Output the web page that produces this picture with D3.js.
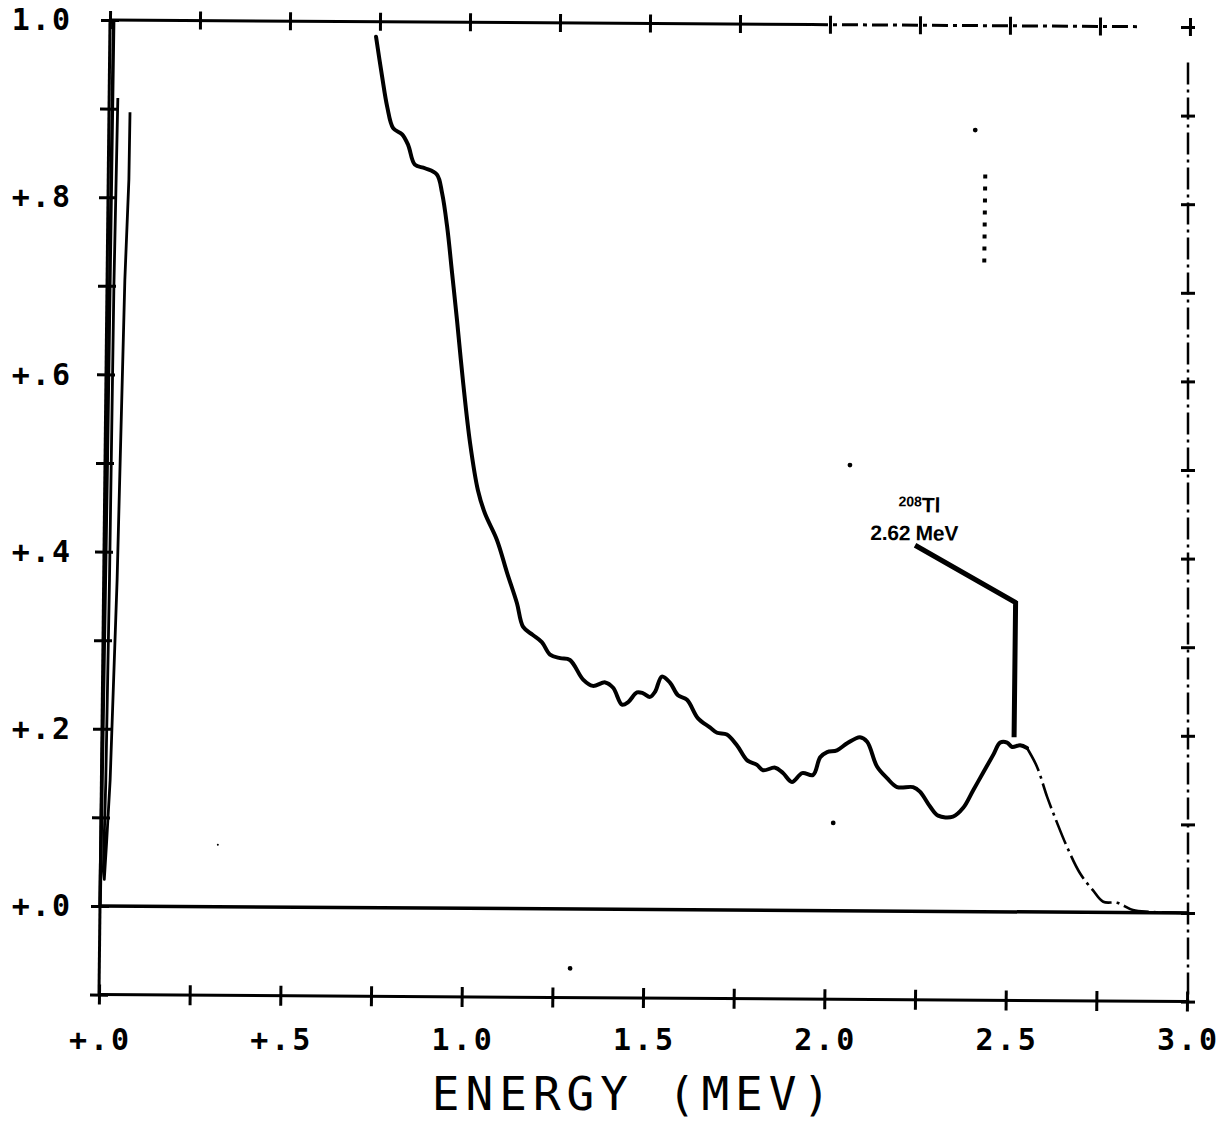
<!DOCTYPE html>
<html>
<head>
<meta charset="utf-8">
<script src="https://cdn.jsdelivr.net/npm/d3@7"></script>
<style>
  body { margin: 0; background: #fff; }
</style>
</head>
<body>
<svg id="chart" width="1224" height="1122"></svg>
<script>
// Gamma spectrum (energy in MeV, relative counts)
const energy = [0.734,0.752,0.767,0.784,0.809,0.826,0.845,0.873,0.906,0.921,
  0.936,0.951,0.966,0.985,1.006,1.029,1.049,1.083,1.112,1.140,
  1.158,1.185,1.210,1.233,1.261,1.288,1.325,1.352,1.386,1.408,
  1.433,1.450,1.474,1.491,1.510,1.524,1.542,1.565,1.587,1.612,
  1.643,1.676,1.696,1.723,1.751,1.780,1.807,1.824,1.857,1.879,
  1.904,1.932,1.962,1.981,2.000,2.027,2.055,2.090,2.110,2.138,
  2.166,2.194,2.238,2.257,2.286,2.308,2.349,2.377,2.404,2.431,
  2.458,2.477,2.496,2.510,2.532,2.551,2.579,2.608,2.636,2.664,
  2.701,2.737,2.766,2.804,2.848,2.895,3.0];
const counts = [0.983,0.938,0.904,0.880,0.873,0.861,0.839,0.835,0.828,0.807,
  0.769,0.717,0.664,0.593,0.525,0.472,0.446,0.416,0.379,0.345,
  0.318,0.309,0.301,0.287,0.283,0.281,0.259,0.252,0.256,0.250,
  0.231,0.234,0.245,0.244,0.240,0.246,0.263,0.256,0.242,0.237,
  0.216,0.206,0.200,0.198,0.186,0.169,0.164,0.158,0.161,0.155,
  0.145,0.155,0.153,0.173,0.179,0.181,0.189,0.196,0.191,0.163,
  0.150,0.140,0.140,0.135,0.118,0.108,0.107,0.117,0.137,0.157,
  0.177,0.191,0.191,0.186,0.188,0.185,0.164,0.130,0.101,0.074,
  0.044,0.025,0.012,0.011,0.003,0.001,0.0];
const tailStart = 2.551; // pen goes thin / broken from here on

// off-scale low energy region: rising edge and the returning strokes
const spikeEdge = [[0, 0], [0.006, 0.5], [0.01, 1.0]];
const spikeLoop = [[0.024,0.912],[0.019,0.70],[0.016,0.37],[0.012,0.14],[0.008,0.04],
  [0.011,0.03],[0.016,0.07],[0.024,0.142],[0.037,0.368],[0.049,0.707],[0.057,0.82],[0.058,0.896]];

// 208Tl line marker
const leader = [[2.236, 0.413], [2.515, 0.349], [2.515, 0.197]];
const peakIsotope = '208';
const peakElement = 'Tl';
const peakEnergyLabel = '2.62 MeV';

// stray plotter specks
const specks = [[2.389, 0.882], [2.054, 0.503], [2.019, 0.099], [1.298, -0.067], [0.323, 0.070]];
const speckTrail = [[2.418, 0.832], [2.418, 0.728]];

// axes
const xTickValues = [0,0.25,0.5,0.75,1,1.25,1.5,1.75,2,2.25,2.5,2.75,3];
const xLabelValues = [0, 0.5, 1, 1.5, 2, 2.5, 3];
const xTickLabels = ['+.0', '+.5', '1.0', '1.5', '2.0', '2.5', '3.0'];
const yTickValues = [-0.1,0,0.1,0.2,0.3,0.4,0.5,0.6,0.7,0.8,0.9,1.0];
const yLabelValues = [0, 0.2, 0.4, 0.6, 0.8, 1.0];
const yTickLabels = ['+.0', '+.2', '+.4', '+.6', '+.8', '1.0'];
const xTitle = 'ENERGY (MEV)';

const svg = d3.select('#chart');
const x = d3.scaleLinear().domain([0, 3]).range([100, 1188]);
const xTop = d3.scaleLinear().domain([0, 3]).range([110, 1190]);
const y = d3.scaleLinear().domain([0, 1]).range([906, 20]);
const mono = "'DejaVu Sans Mono', 'Liberation Mono', monospace";

// the scanned sheet is slightly skewed
const plot = svg.append('g')
  .attr('transform', 'translate(100,906) matrix(1,0.0064,-0.0113,1,0,0) translate(-100,-906)');
// top and right edges of the frame sit a little differently on the scan
const topEdge = svg.append('g').attr('transform', `rotate(0.37, ${xTop(0)}, ${y(1)})`);
const rightEdge = svg.append('g').attr('transform', 'translate(0,7)');

const seg = (g, x1, y1, x2, y2) => g.append('line')
  .attr('x1', x1).attr('y1', y1).attr('x2', x2).attr('y2', y2)
  .attr('stroke', '#000').attr('stroke-width', 3);

// frame
seg(plot, x(0), y(-0.1), x(0), y(1.0));
seg(plot, x(0), y(-0.1), x(3), y(-0.1));
seg(plot, x(0), y(0), x(3), y(0)).attr('stroke-width', 3.5);
seg(topEdge, xTop(0), y(1.0), xTop(1.95), y(1.0));
seg(topEdge, xTop(1.95), y(1.0), xTop(2.86), y(1.0)).attr('stroke-dasharray', '16,5,4,5');
seg(rightEdge, x(3), y(0.96), x(3), y(-0.1)).attr('stroke-dasharray', '22,5,3,5').attr('stroke-width', 2.5);

// cross-shaped ticks
const crossTicks = (g, horiz, len) => {
  g.select('.domain').remove();
  const lines = g.selectAll('.tick line').attr('stroke', '#000').attr('stroke-width', 3);
  if (horiz) lines.attr('x1', -len).attr('x2', len);
  else lines.attr('y1', -len).attr('y2', len);
};
plot.append('g').attr('transform', `translate(${x(0)},0)`)
  .call(d3.axisLeft(y).tickValues(yTickValues).tickFormat('').tickSize(9))
  .call(g => crossTicks(g, true, 9));
rightEdge.append('g').attr('transform', `translate(${x(3)},0)`)
  .call(d3.axisRight(y).tickValues(yTickValues).tickFormat('').tickSize(8))
  .call(g => crossTicks(g, true, 7));
plot.append('g').attr('transform', `translate(0,${y(-0.1)})`)
  .call(d3.axisBottom(x).tickValues(xTickValues).tickFormat('').tickSize(10))
  .call(g => crossTicks(g, false, 10));
topEdge.append('g').attr('transform', `translate(0,${y(1.0)})`)
  .call(d3.axisTop(xTop).tickValues(xTickValues).tickFormat('').tickSize(9))
  .call(g => crossTicks(g, false, 9));

// spectrum
const line = d3.line().x(d => x(d[0])).y(d => y(d[1]));
const spectrum = energy.map((e, i) => [e, counts[i]]);
plot.append('path')
  .datum(spectrum.filter(d => d[0] <= tailStart))
  .attr('d', line.curve(d3.curveCatmullRom.alpha(0.5)))
  .attr('fill', 'none').attr('stroke', '#000').attr('stroke-width', 4)
  .attr('stroke-linejoin', 'round').attr('stroke-linecap', 'round');
plot.append('path')
  .datum(spectrum.filter(d => d[0] >= tailStart))
  .attr('d', line.curve(d3.curveCatmullRom.alpha(0.5)))
  .attr('fill', 'none').attr('stroke', '#000').attr('stroke-width', 2.6)
  .attr('stroke-dasharray', '26,5,3,5');

const straight = d3.line().x(d => x(d[0])).y(d => y(d[1]));
plot.append('path').datum(spikeEdge).attr('d', straight)
  .attr('fill', 'none').attr('stroke', '#000').attr('stroke-width', 3.5);
plot.append('path').datum(spikeLoop).attr('d', straight)
  .attr('fill', 'none').attr('stroke', '#000').attr('stroke-width', 2.8)
  .attr('stroke-linejoin', 'round');

// Tl-208 marker
plot.append('path').datum(leader).attr('d', straight)
  .attr('fill', 'none').attr('stroke', '#000').attr('stroke-width', 5)
  .attr('stroke-linejoin', 'miter');
const lab = plot.append('g')
  .attr('transform', `translate(${x(leader[0][0])},${y(leader[0][1])})`)
  .attr('font-family', "'Liberation Sans', Arial, sans-serif")
  .attr('font-weight', 'bold').attr('text-anchor', 'middle').attr('fill', '#000');
const iso = lab.append('text').attr('x', 4).attr('y', -33).attr('font-size', 21);
iso.append('tspan').attr('font-size', 14).attr('dy', -6).text(peakIsotope);
iso.append('tspan').attr('dy', 6).text(peakElement);
lab.append('text').attr('x', -1).attr('y', -5).attr('font-size', 21)
  .attr('letter-spacing', -0.3).text(peakEnergyLabel);

// specks
plot.selectAll('circle.speck').data(specks).join('circle')
  .attr('class', 'speck').attr('cx', d => x(d[0])).attr('cy', d => y(d[1]))
  .attr('r', (d, i) => i === 4 ? 1 : 2.4).attr('fill', '#000');
plot.append('path').datum(speckTrail).attr('d', straight)
  .attr('stroke', '#000').attr('stroke-width', 4).attr('stroke-dasharray', '4,8');

// labels (not skewed)
svg.append('g').attr('transform', `translate(0,${y(-0.1) + 1})`)
  .call(d3.axisBottom(x).tickValues(xLabelValues).tickFormat((d, i) => xTickLabels[i]).tickSize(0).tickPadding(33))
  .call(g => g.select('.domain').remove())
  .selectAll('text')
  .attr('font-family', mono).attr('font-size', 30).attr('font-weight', 'bold')
  .attr('letter-spacing', 3).attr('fill', '#000');

svg.append('g').attr('transform', `translate(${x(0)},0)`)
  .call(d3.axisLeft(y).tickValues(yLabelValues).tickFormat((d, i) => yTickLabels[i]).tickSize(0).tickPadding(28))
  .call(g => g.select('.domain').remove())
  .selectAll('text')
  .attr('font-family', mono).attr('font-size', 30).attr('font-weight', 'bold')
  .attr('letter-spacing', 2).attr('fill', '#000');

svg.append('text')
  .attr('x', 634).attr('y', 1110)
  .attr('text-anchor', 'middle')
  .attr('font-family', mono).attr('font-size', 46)
  .attr('letter-spacing', 6).attr('fill', '#000')
  .text(xTitle);
</script>
</body>
</html>
